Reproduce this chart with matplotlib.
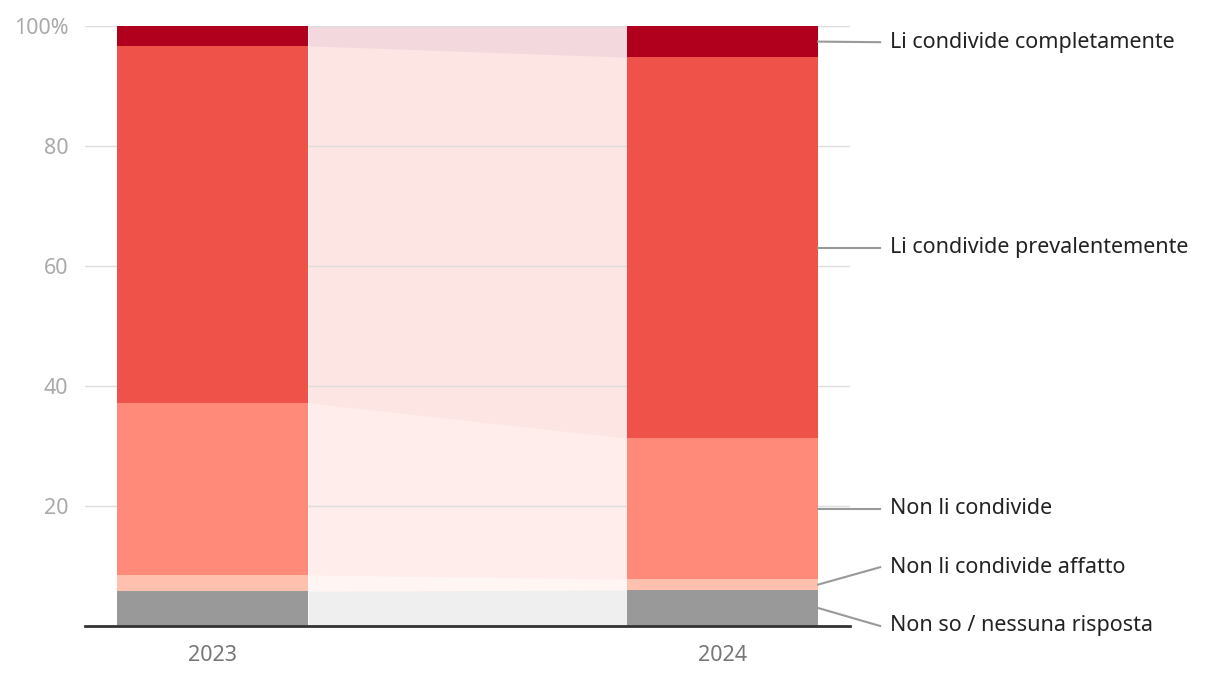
import numpy as np
import matplotlib
matplotlib.use("Agg")
import matplotlib.pyplot as plt

years = ["2023", "2024"]
categories = [
    "Non so / nessuna risposta",
    "Non li condivide affatto",
    "Non li condivide",
    "Li condivide prevalentemente",
    "Li condivide completamente",
]
values_2023 = [5.8, 2.7, 28.7, 59.5, 3.3]
values_2024 = [6.0, 1.8, 23.5, 63.5, 5.2]
colors = ["#999999", "#ffc1ae", "#ff8a7a", "#ef5249", "#b0001e"]
# where the right-hand labels sit (y in %) when they can't sit on the segment
label_y = [0.0, 9.8, None, None, 97.3]

plt.rcParams["font.family"] = ["Noto Sans", "DejaVu Sans"]

fig = plt.figure(figsize=(12.2, 6.84), dpi=100)
ax = fig.add_axes([85 / 1220, 58 / 684, 765 / 1220, 600 / 684])

x = np.arange(len(years))
width = 0.375
vals = np.array([values_2023, values_2024])
bottoms = np.vstack([np.zeros(2), np.cumsum(vals, axis=1)[:, :-1].T]).T

for i, cat in enumerate(categories):
    b = bottoms[:, i]
    t = b + vals[:, i]
    ax.bar(x, vals[:, i], width, bottom=b, color=colors[i], zorder=3, linewidth=0)
    # connector band between the two bars
    xs = [x[0] + width / 2, x[1] - width / 2]
    ax.fill_between(xs, b, t, color=colors[i], alpha=0.15, linewidth=0, zorder=1)

    # label on the right with leader line
    mid = b[1] + vals[1, i] / 2
    ly = label_y[i] if label_y[i] is not None else mid
    x0 = x[1] + width / 2
    x1 = x0 + 62 / 510
    ax.plot([x0, x1], [mid, ly], color="#999999", lw=1.5, clip_on=False, zorder=4)
    ax.text(x1 + 10 / 510, ly, cat, va="center", ha="left", fontsize=15.5,
            color="#222222")

ax.set_xlim(-0.25, 1.25)
ax.set_ylim(0, 100)
ax.set_yticks([20, 40, 60, 80, 100])
ax.set_yticklabels(["20", "40", "60", "80", "100%"])
ax.set_xticks(x)
ax.set_xticklabels(years)
ax.grid(axis="y", color="#dddddd", lw=1, zorder=2)
for s in ["top", "right", "left"]:
    ax.spines[s].set_visible(False)
ax.spines["bottom"].set_color("#333333")
ax.spines["bottom"].set_linewidth(2)
ax.spines["bottom"].set_zorder(5)
ax.tick_params(axis="y", length=0, labelsize=15.5, labelcolor="#aaaaaa", pad=12)
ax.tick_params(axis="x", length=0, labelsize=15.5, labelcolor="#777777", pad=14)

fig.savefig("out.png", dpi=100)
